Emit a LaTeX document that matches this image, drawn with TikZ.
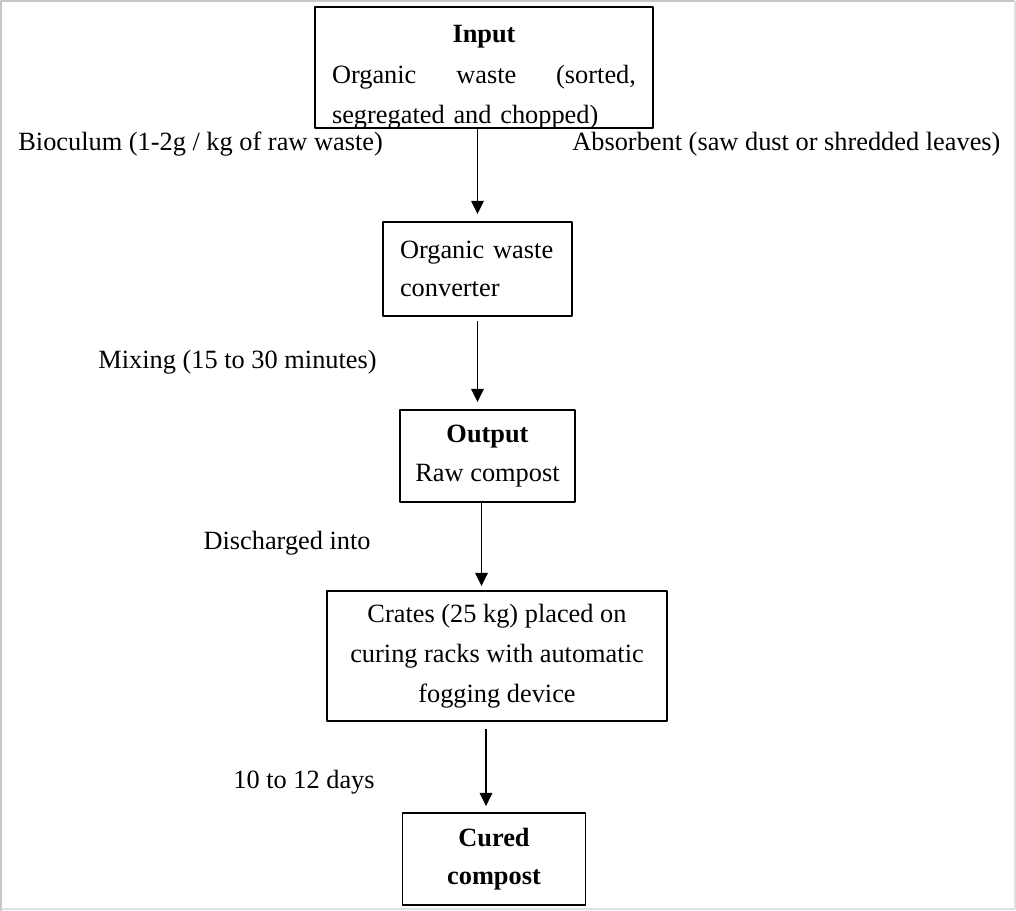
\documentclass[tikz,border=0pt]{standalone}
\usepackage{fontspec}
\setmainfont{Liberation Serif}
\usetikzlibrary{arrows.meta}

\begin{document}
\begin{tikzpicture}[
  x=0.02cm,
  y=-0.02cm,
  line join=round,
  box/.style={
    draw,
    line width=1pt,
    inner sep=0pt,
    font=\fontsize{15}{22}\selectfont
  },
  note/.style={
    inner sep=0pt,
    font=\fontsize{15}{22}\selectfont
  },
  flow/.style={
    line width=1.1pt,
    -{Triangle[length=7.5pt,width=7pt]}
  }
]
  % Границы рисунка
  \useasboundingbox (0,0) rectangle (1016,911);

  \draw[black!22, line width=1.2pt]
    (1,911) -- (1,1) -- (1015,1);

  \draw[black!12, line width=0.6pt]
    (1015,1) -- (1015,909) -- (1,909);

  % Вход: рамка и обрезанный текст
  \node[box, minimum width=6.76cm, minimum height=2.42cm]
    (input) at (484,67.5) {};

  \begin{scope}
    \clip (input.south west) rectangle (input.north east);
    \node[
      note,
      font=\fontsize{15}{23}\selectfont,
      text width=6.08cm,
      align=left,
      anchor=north
    ] (inputtext) at (484,25)
      {\hfill\textbf{Input}\hfill\null\\
       Organic\hfill waste\hfill (sorted,\\
       segregated and chopped)};
  \end{scope}

  % Блоки процесса
  \node[box, minimum width=3.78cm, minimum height=1.88cm,
        text width=3.1cm, align=left]
    (conv) at (477.5,269) {Organic waste\\converter};

  \node[box, minimum width=3.5cm, minimum height=1.84cm, align=center]
    (output) at (487.5,456) {\textbf{Output}\\Raw compost};

  \node[box, minimum width=6.8cm, minimum height=2.6cm, align=center,
        font=\fontsize{15}{22.7}\selectfont]
    (crates) at (497,656)
    {Crates (25 kg) placed on\\curing racks with automatic\\fogging device};

  \node[box, minimum width=3.66cm, minimum height=1.84cm, align=center,
        font=\fontsize{15}{22}\selectfont\bfseries]
    (cured) at (494,859) {Cured\\compost};

  % Подписи к стрелкам
  \node[note, anchor=base west] (bioculum) at (18,151)
    {Bioculum (1-2g / kg of raw waste)};
  \node[note, anchor=base west] (absorbent) at (572,151)
    {Absorbent (saw dust or shredded leaves)};
  \node[note, anchor=base east] (mixing) at (377,369)
    {Mixing (15 to 30 minutes)};
  \node[note, anchor=base east] (discharged) at (371,549)
    {Discharged into};
  \node[note, anchor=base east] (days) at (375,788)
    {10 to 12 days};

  % Стрелки
  \draw[flow, shorten >=4pt]
    (input.south -| conv.north) -- (conv.north);

  \draw[flow, shorten <=2.3pt, shorten >=4pt]
    (conv.south) -- (conv.south |- output.north);

  \draw[flow, shorten >=2.3pt]
    ([xshift=-0.12cm]output.south) -- ([xshift=-0.12cm]output.south |- crates.north);

  \draw[flow, shorten <=4pt, shorten >=3.4pt]
    ([xshift=-0.22cm]crates.south) -- ([xshift=-0.22cm]crates.south |- cured.north);
\end{tikzpicture}
\end{document}
